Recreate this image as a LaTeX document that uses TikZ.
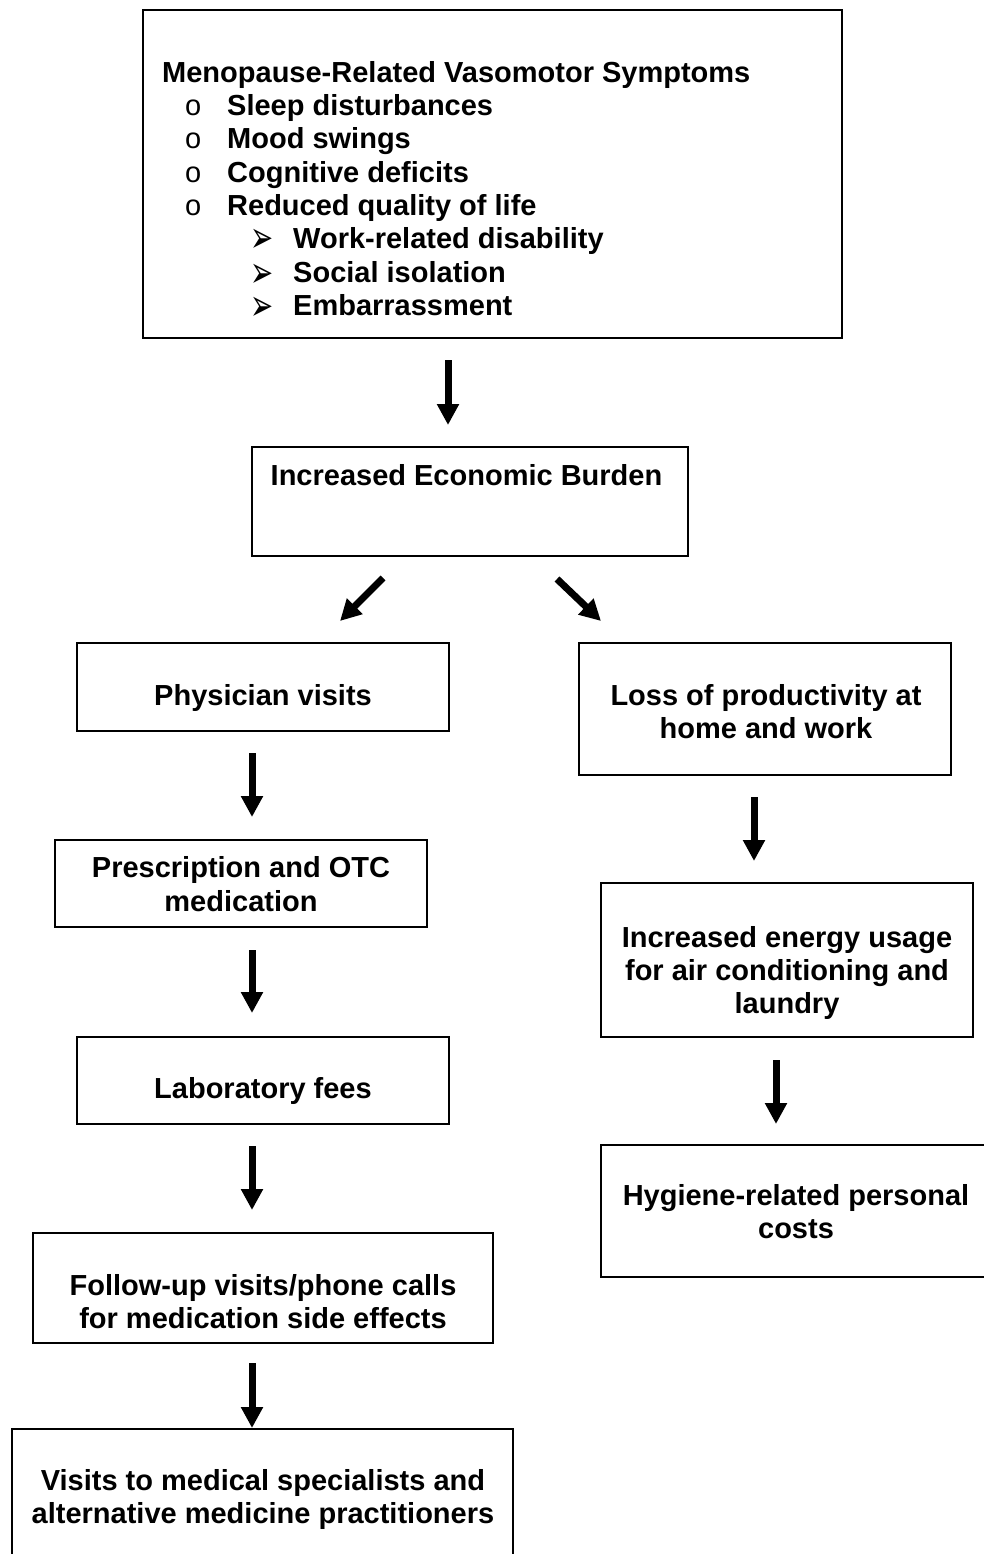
\documentclass[tikz,border=0pt]{standalone}
\usepackage{fontspec}
\usepackage{graphicx}
\setmainfont{Liberation Sans}
\newfontfamily\dejavu{DejaVu Sans}
\usetikzlibrary{arrows.meta}
\begin{document}
\begin{tikzpicture}[x=1pt,y=-1pt,
  box/.style={draw, line width=1.6pt, inner sep=0pt},
  txt/.style={font=\bfseries\fontsize{29}{33.4}\selectfont, align=center, inner sep=0pt},
  li/.style={font=\bfseries\fontsize{29}{33.4}\selectfont, anchor=base west, inner sep=0pt},
  bul/.style={font=\mdseries\fontsize{29}{33.4}\selectfont, anchor=base west, inner sep=0pt},
  tri/.style={font=\dejavu\fontsize{23}{33.4}\selectfont, anchor=base west, inner sep=0pt},
  arr/.style={line width=7pt, -{Triangle[width=21pt,length=21pt]}}]
\useasboundingbox (0,0) rectangle (984,1554);
\fill[white] (0,0) rectangle (984,1554);
\clip (0,0) rectangle (984,1554);

% boxes
\node[box, minimum width=699pt, minimum height=328pt] (top) at (492.5,174) {};
\node[box, minimum width=436pt, minimum height=109pt] (eco) at (470,501.5) {};
\node[box, minimum width=372pt, minimum height=88pt] (phys) at (263,687) {};
\node[box, minimum width=372pt, minimum height=132pt] (loss) at (765,709) {};
\node[box, minimum width=372pt, minimum height=87pt] (presc) at (241,883.5) {};
\node[box, minimum width=372pt, minimum height=87pt] (lab) at (263,1080.5) {};
\node[box, minimum width=460pt, minimum height=110pt] (foll) at (263,1288) {};
\node[box, minimum width=501pt, minimum height=160pt] (visit) at (262.5,1509) {};
\node[box, minimum width=372pt, minimum height=154pt] (energy) at (787,960) {};
\node[box, minimum width=420pt, minimum height=132pt] (hyg) at (811,1211) {};

% top box text
\node[li] (h0) at (162,82.6) {Menopause-Related Vasomotor Symptoms};
\node[bul] (o1) at (185,115.6) {o};
\node[li] (t1) at (227,115.6) {Sleep disturbances};
\node[bul] (o2) at (185,148.6) {o};
\node[li] (t2) at (227,148.6) {Mood swings};
\node[bul] (o3) at (185,182.6) {o};
\node[li] (t3) at (227,182.6) {Cognitive deficits};
\node[bul] (o4) at (185,215.6) {o};
\node[li] (t4) at (227,215.6) {Reduced quality of life};
\node[tri] (p1) at (250,253) {\smash{\scalebox{1.2}[1.9]{➢}}};
\node[li] (s1) at (293,248.6) {Work-related disability};
\node[tri] (p2) at (250,287) {\smash{\scalebox{1.2}[1.9]{➢}}};
\node[li] (s2) at (293,282.6) {Social isolation};
\node[tri] (p3) at (250,320) {\smash{\scalebox{1.2}[1.9]{➢}}};
\node[li] (s3) at (293,315.6) {Embarrassment};

% other texts
\node[txt] (ecoT) at (466.5,475) {Increased Economic Burden};
\node[txt] (physT) at (263,698) {Physician visits};
\node[txt] (lossT) at (766,711.5) {Loss of productivity at\\home and work};
\node[txt] (prescT) at (241,884) {Prescription and OTC\\medication};
\node[txt] (labT) at (263,1091) {Laboratory fees};
\node[txt] (engT) at (787,973) {Increased energy usage\\for air conditioning and\\laundry};
\node[txt] (hygT) at (796,1211.5) {Hygiene-related personal\\costs};
\node[txt] (follT) at (263,1301.5) {Follow-up visits/phone calls\\for medication side effects};
\node[txt] (visT) at (263,1499.5) {Visits to medical specialists and\\alternative medicine practitioners};

% arrow end points
\coordinate (a1s) at (448,360);  \coordinate (a1e) at (448,425);
\coordinate (a2s) at (383,578);  \coordinate (a2e) at (340,621);
\coordinate (a3s) at (557,579);  \coordinate (a3e) at (601,621);
\coordinate (a4s) at (252,753);  \coordinate (a4e) at (252,817);
\coordinate (a5s) at (754,797);  \coordinate (a5e) at (754,861);
\coordinate (a6s) at (252,950);  \coordinate (a6e) at (252,1013);
\coordinate (a7s) at (252,1146); \coordinate (a7e) at (252,1210);
\coordinate (a8s) at (776,1060); \coordinate (a8e) at (776,1124);
\coordinate (a9s) at (252,1363); \coordinate (a9e) at (252,1428);

\draw[arr] (a1s) -- (a1e);
\draw[arr] (a2s) -- (a2e);
\draw[arr] (a3s) -- (a3e);
\draw[arr] (a4s) -- (a4e);
\draw[arr] (a5s) -- (a5e);
\draw[arr] (a6s) -- (a6e);
\draw[arr] (a7s) -- (a7e);
\draw[arr] (a8s) -- (a8e);
\draw[arr] (a9s) -- (a9e);
\end{tikzpicture}
\end{document}
